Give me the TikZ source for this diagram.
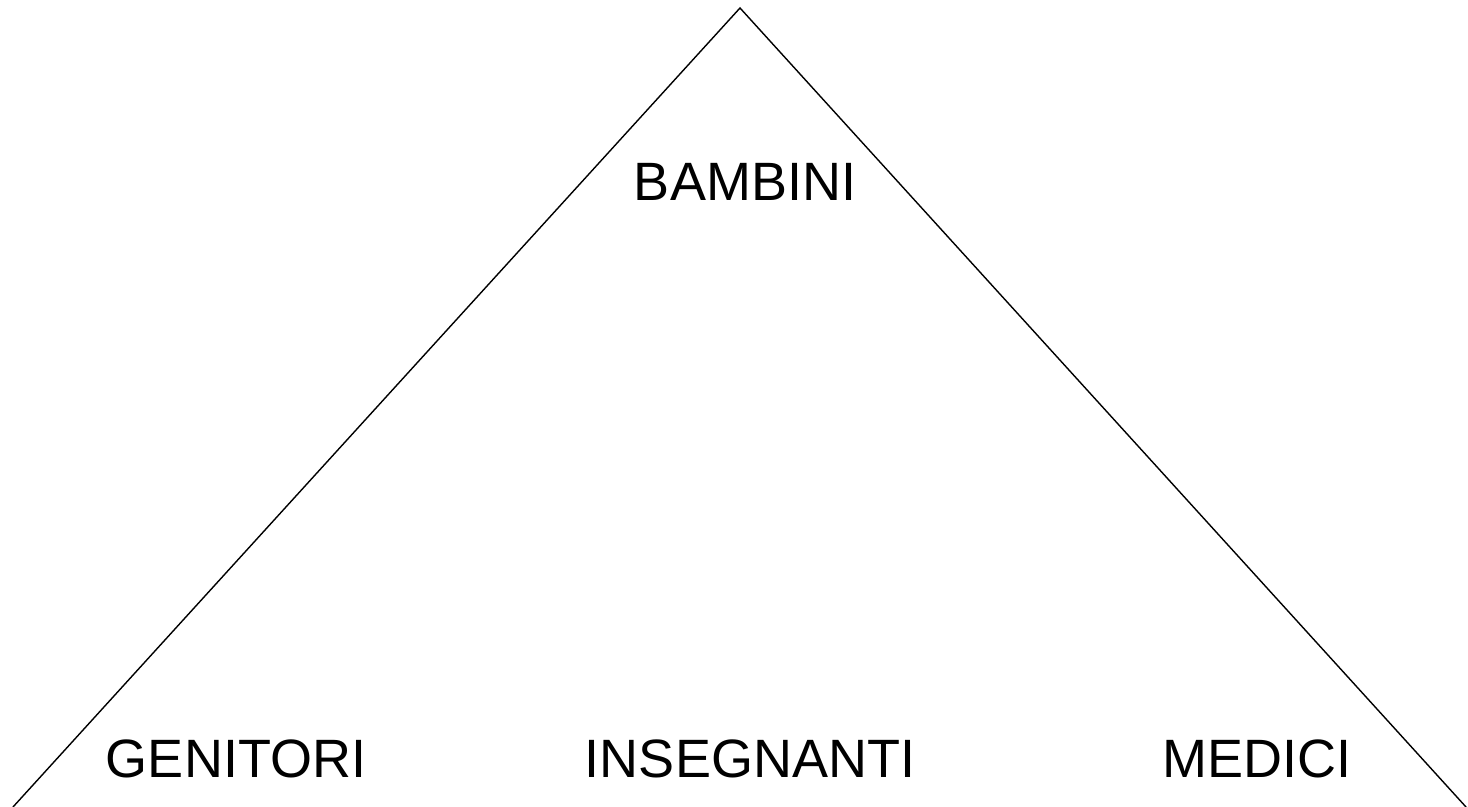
\documentclass[tikz,border=0pt]{standalone}
\usepackage{fontspec}
\setmainfont{Liberation Sans}
\begin{document}
\begin{tikzpicture}[x=0.5pt,y=0.5pt,
  lbl/.style={font=\fontsize{27}{31}\selectfont, anchor=base, inner sep=0pt},
  edge/.style={draw=black, line width=0.7pt}]
\useasboundingbox (0,0) rectangle (1468,807);
\coordinate (apex) at (740,799);
\coordinate (bl) at (13,0);
\coordinate (br) at (1466,0);
\draw[edge] (bl) -- (apex) -- (br);
\node[lbl] (bambini) at (745,606) {BAMBINI};
\node[lbl] (genitori) at (236,29) {GENITORI};
\node[lbl] (insegnanti) at (750,29) {INSEGNANTI};
\node[lbl] (medici) at (1257,29) {MEDICI};
\end{tikzpicture}
\end{document}
